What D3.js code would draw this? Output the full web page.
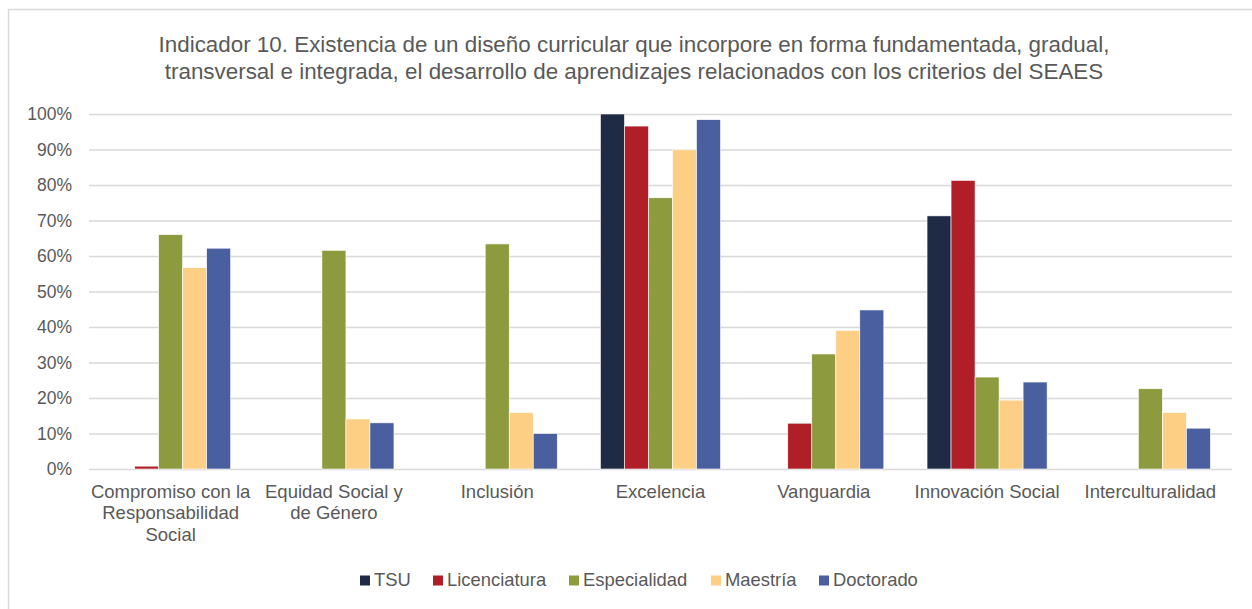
<!DOCTYPE html>
<html>
<head>
<meta charset="utf-8">
<script src="https://cdn.jsdelivr.net/npm/d3@7"></script>
<style>
  body { margin: 0; background: #fff; }
  svg text { font-family: "Liberation Sans", Arial, sans-serif; fill: #595959; }
</style>
</head>
<body>
<svg id="chart" width="1252" height="609"></svg>
<script>
// datos
const categories = [
  'Compromiso con la\nResponsabilidad\nSocial',
  'Equidad Social y\nde Género',
  'Inclusión',
  'Excelencia',
  'Vanguardia',
  'Innovación Social',
  'Interculturalidad'
];
const series = ['TSU', 'Licenciatura', 'Especialidad', 'Maestría', 'Doctorado'];
const tsu = [0, 0, 0, 1.0, 0, 0.713, 0];
const licenciatura = [0.008, 0, 0, 0.966, 0.129, 0.813, 0];
const especialidad = [0.660, 0.616, 0.634, 0.764, 0.324, 0.259, 0.226];
const maestria = [0.567, 0.141, 0.159, 0.899, 0.390, 0.194, 0.159];
const doctorado = [0.622, 0.130, 0.100, 0.984, 0.448, 0.245, 0.115];
const colors = ['#1f2a44', '#b01f28', '#8e9a3e', '#fccf85', '#4a5fa0'];
const yTicks = [0, 0.1, 0.2, 0.3, 0.4, 0.5, 0.6, 0.7, 0.8, 0.9, 1.0];
const titleLines = [
  'Indicador 10. Existencia de un diseño curricular que incorpore en forma fundamentada, gradual,',
  'transversal e integrada, el desarrollo de aprendizajes relacionados con los criterios del SEAES'
];

const values = [tsu, licenciatura, especialidad, maestria, doctorado];

const svg = d3.select('#chart');
const margin = { left: 89, right: 1232, top: 114, bottom: 469 };

// borde del área del gráfico
svg.append('rect')
  .attr('x', 8.5).attr('y', 9.5)
  .attr('width', 1260).attr('height', 620)
  .attr('fill', 'none')
  .attr('stroke', '#d9d9d9')
  .attr('stroke-width', 1.5);

// título
svg.append('text')
  .attr('x', 634)
  .attr('y', 52)
  .attr('text-anchor', 'middle')
  .style('font-size', '22.4px')
  .selectAll('tspan')
  .data(titleLines)
  .join('tspan')
  .attr('x', 634)
  .attr('dy', (d, i) => i === 0 ? 0 : 27)
  .text(d => d);

const x0 = d3.scaleBand()
  .domain(categories)
  .range([margin.left, margin.right]);

const x1 = d3.scaleBand()
  .domain(series)
  .range([0, x0.bandwidth()])
  .paddingOuter(0.9);

const y = d3.scaleLinear()
  .domain([0, 1])
  .range([margin.bottom, margin.top]);

// eje Y con líneas de cuadrícula
const yAxis = svg.append('g')
  .attr('transform', `translate(${margin.left},0)`)
  .call(d3.axisLeft(y)
    .tickValues(yTicks)
    .tickFormat(d3.format('.0%'))
    .tickSize(-(margin.right - margin.left))
    .tickPadding(17));
yAxis.select('.domain').remove();
yAxis.selectAll('line')
  .attr('stroke', '#d9d9d9')
  .attr('stroke-width', 1.5);
yAxis.selectAll('text')
  .style('font-size', '17.5px')
  .attr('fill', '#595959');

// barras
const groups = svg.append('g')
  .selectAll('g')
  .data(series)
  .join('g')
  .attr('fill', (d, i) => colors[i]);

groups.selectAll('rect')
  .data((s, si) => categories.map((c, ci) => ({ s, c, v: values[si][ci] })))
  .join('rect')
  .filter(d => d.v > 0)
  .attr('x', d => x0(d.c) + x1(d.s))
  .attr('y', d => y(d.v))
  .attr('width', x1.bandwidth())
  .attr('height', d => y(0) - y(d.v))
  .attr('stroke', '#ffffff')
  .attr('stroke-width', 0.6);

// etiquetas de categoría
const xLabels = svg.append('g')
  .selectAll('text')
  .data(categories)
  .join('text')
  .attr('text-anchor', 'middle')
  .attr('y', 498)
  .style('font-size', '18.5px');
xLabels.selectAll('tspan')
  .data(d => d.split('\n'))
  .join('tspan')
  .attr('x', function () { return x0(this.parentNode.__data__) + x0.bandwidth() / 2; })
  .attr('dy', (d, i) => i === 0 ? 0 : 21.3)
  .text(d => d);

// leyenda
const legendX = [360, 433, 569, 711, 819];
const legend = svg.append('g')
  .selectAll('g')
  .data(series)
  .join('g')
  .attr('transform', (d, i) => `translate(${legendX[i]},580)`);
legend.append('rect')
  .attr('x', 0).attr('y', -4.5)
  .attr('width', 10).attr('height', 10)
  .attr('fill', (d, i) => colors[i]);
legend.append('text')
  .attr('x', 14)
  .attr('y', 6)
  .style('font-size', '18.4px')
  .text(d => d);
</script>
</body>
</html>
